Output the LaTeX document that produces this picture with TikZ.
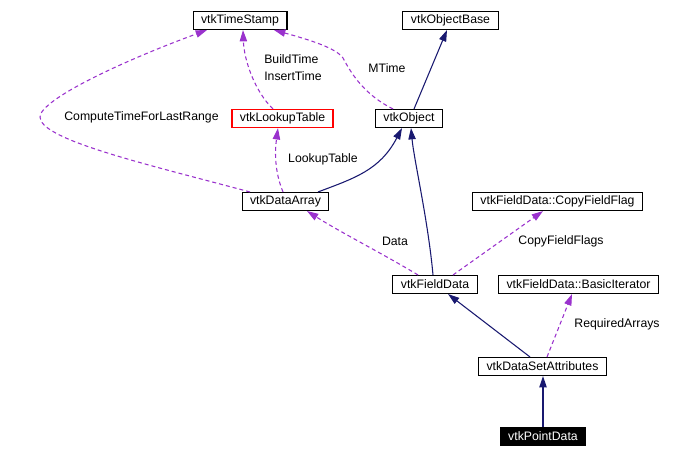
\documentclass[tikz,border=0pt]{standalone}
\usepackage{fontspec}
\setmainfont{Liberation Sans}
\usetikzlibrary{arrows.meta,calc}
\definecolor{usecol}{HTML}{9A32CD}
\definecolor{inhcol}{HTML}{191970}

\begin{document}
\begin{tikzpicture}[x=0.75pt,y=-0.75pt,
	every node/.style={font=\fontsize{9.2}{12.75}\selectfont},
	cls/.style={draw=black,line width=0.8pt,minimum height=13.5pt,inner xsep=6pt,inner ysep=0pt},
	clsred/.style={cls,draw=red,line width=1pt},
	clshere/.style={cls,fill=black,text=white},
	lbl/.style={inner sep=0pt},
	dep/.style={usecol,line width=0.8pt,dash pattern=on 3pt off 2.25pt,-{Triangle[length=8.5pt,width=5.5pt]}},
	inh/.style={inhcol,line width=0.8pt,-{Triangle[length=8.5pt,width=5.5pt]}}]
	\useasboundingbox (0,0) rectangle (680,458);
	\node [cls] (ts) at (240,20.5) {vtkTimeStamp};
	\node [cls] (ob) at (450.5,20.5) {vtkObjectBase};
	\node [clsred] (lut) at (282.5,118.5) {vtkLookupTable};
	\node [cls] (obj) at (409,118.5) {vtkObject};
	\node [cls] (da) at (285.5,201.5) {vtkDataArray};
	\node [cls] (cff) at (557.5,201.5) {vtkFieldData::CopyFieldFlag};
	\node [cls] (fd) at (435,284.5) {vtkFieldData};
	\node [cls] (bi) at (578.5,284.5) {vtkFieldData::BasicIterator};
	\node [cls] (dsa) at (542.5,366.5) {vtkDataSetAttributes};
	\node [clshere] (pd) at (543,436.5) {vtkPointData};
	\draw [dep] ($(lut.north)+(-9.5,0)$) .. controls (255,92) and (244,60) .. ($(ts.south)+(3,0)$);
	\node [lbl,anchor=west,align=left] (lbuild) at (264,67.5) {BuildTime\\InsertTime};
	\draw [dep] ($(obj.north)+(-16,0)$) .. controls (365,95) and (352,75) .. (343,58) .. controls (336,48) and (310,40) .. ($(ts.south)+(34,0)$);
	\node [lbl] (lmtime) at (387,68) {MTime};
	\draw [dep] ($(da.north)+(-35.5,0)$) .. controls (150,165) and (40,140) .. (40,117) .. controls (40,100) and (120,62) .. ($(ts.south)+(-33,0)$);
	\node [lbl] (lcompute) at (141.5,117) {ComputeTimeForLastRange};
	\draw [dep] ($(da.north)+(-2.5,0)$) .. controls (274,170) and (275,150) .. ($(lut.south)+(-4.5,0)$);
	\node [lbl] (llut) at (323,159) {LookupTable};
	\draw [inh] ($(da.north)+(32.5,0)$) .. controls (355,178) and (380,170) .. ($(obj.south)+(-7,0)$);
	\draw [inh] ($(obj.north)+(5,0)$) -- ($(ob.south)+(-3.5,0)$);
	\draw [inh] ($(fd.north)+(-2,0)$) .. controls (428,220) and (414,160) .. ($(obj.south)+(2,0)$);
	\draw [dep] ($(fd.north)+(-17,0)$) .. controls (385,255) and (340,232) .. ($(da.south)+(21.5,0)$);
	\node [lbl] (ldata) at (395,241) {Data};
	\draw [dep] ($(fd.north)+(18,0)$) -- ($(cff.south)+(-14.5,0)$);
	\node [lbl] (lflags) at (561,241) {CopyFieldFlags};
	\draw [inh] ($(dsa.north)+(-12.5,0)$) -- ($(fd.south)+(13,0)$);
	\draw [dep] ($(dsa.north)+(4.5,0)$) -- ($(bi.south)+(-6.5,0)$);
	\node [lbl] (lreq) at (617,324) {RequiredArrays};
	\draw [inh] (pd.north) -- (pd.north |- dsa.south);
\end{tikzpicture}
\end{document}
